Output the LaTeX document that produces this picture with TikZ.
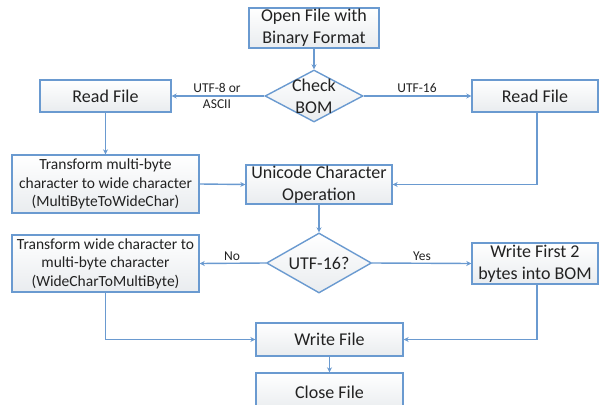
\documentclass[tikz,border=0pt]{standalone}
\usepackage{fontspec}
\setmainfont{Carlito}
\usetikzlibrary{shapes.geometric,arrows.meta}
\definecolor{bord}{HTML}{6A9AD0}
\definecolor{fillb}{HTML}{E9ECEF}
\definecolor{txt}{HTML}{222222}
\tikzset{
  box/.style={draw=bord, line width=1.4pt, top color=white, bottom color=fillb, shading angle=0, text=txt, align=center, inner sep=0pt},
  dia/.style={diamond, draw=bord, line width=1.4pt, top color=white, bottom color=fillb, inner sep=0pt},
  big/.style={font=\fontsize{18}{22}\selectfont},
  mid/.style={font=\fontsize{15.5}{18.5}\selectfont},
  lab/.style={font=\fontsize{13.5}{16}\selectfont, text=txt, align=center, inner sep=0pt},
  arr/.style={draw=bord, line width=1.4pt, -{Stealth[length=5pt,width=5pt]}},
}
\begin{document}
\begin{tikzpicture}[x=1pt,y=-1pt]
\useasboundingbox (0,0) rectangle (599,404);
\node[box,big,minimum width=130pt,minimum height=40pt] (open) at (314,28) {Open File with\\Binary Format};
\node[dia,minimum width=98pt,minimum height=52pt] (check) at (314,96) {};
\node[big,text=txt,align=center,inner sep=0pt] (checkt) at (314,96) {Check\\BOM};
\node[box,big,minimum width=131pt,minimum height=32pt] (readL) at (105.5,96) {Read File};
\node[box,big,minimum width=126pt,minimum height=32pt] (readR) at (535,96) {Read File};
\node[box,mid,minimum width=187pt,minimum height=58pt] (tmb) at (105.5,184) {Transform multi-byte\\character to wide character\\(MultiByteToWideChar)};
\node[box,big,minimum width=146pt,minimum height=39pt] (uni) at (319,184.5) {Unicode Character\\Operation};
\node[dia,minimum width=105pt,minimum height=60pt] (utf) at (319,263) {};
\node[big,text=txt,inner sep=0pt] (utft) at (319,263) {UTF-16?};
\node[box,mid,minimum width=187pt,minimum height=57pt] (twc) at (105.5,263.5) {Transform wide character to\\multi-byte character\\(WideCharToMultiByte)};
\node[box,big,minimum width=126pt,minimum height=41pt] (wfb) at (535,263.5) {Write First 2\\bytes into BOM};
\node[box,big,minimum width=147pt,minimum height=33pt] (wf) at (329.5,339.5) {Write File};
\node[box,big,minimum width=147pt,minimum height=38pt] (cf) at (329.5,392) {Close File};

\draw[arr] (open) -- (check);
\draw[arr] (check.west) -- (readL.east);
\node[lab] (l1) at (217,96) {UTF-8 or\\ASCII};
\draw[arr] (check.east) -- (readR.west);
\node[lab] (l2) at (417,88) {UTF-16};
\draw[arr] (readL) -- (tmb);
\draw[arr] ([xshift=2pt]readR.south) |- (uni.east);
\draw[arr] (tmb.east) -- (uni.west);
\draw[arr] (uni) -- (utf);
\draw[arr] (utf.west) -- (twc.east);
\node[lab] (l3) at (232,256) {No};
\draw[arr] (utf.east) -- (wfb.west);
\node[lab] (l4) at (422,256) {Yes};
\draw[arr] (twc.south) |- (wf.west);
\draw[arr] ([xshift=2pt]wfb.south) |- (wf.east);
\draw[arr] (wf) -- (cf);
\end{tikzpicture}
\end{document}
